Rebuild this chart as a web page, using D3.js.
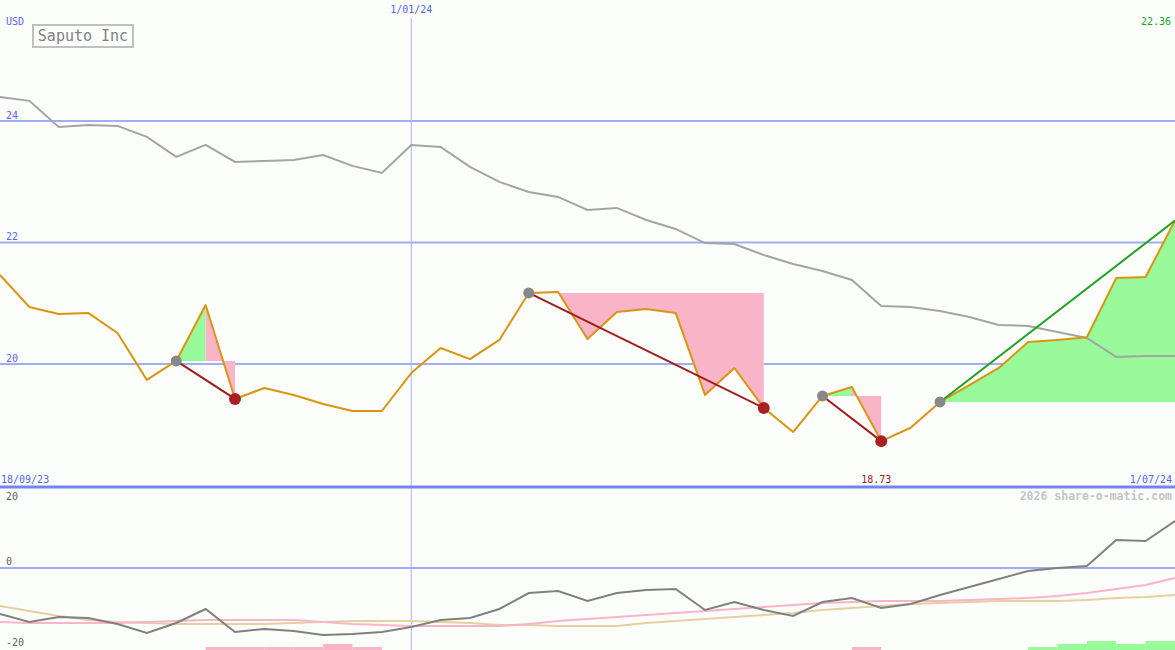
<!DOCTYPE html>
<html><head><meta charset="utf-8">
<script src="https://cdn.jsdelivr.net/npm/d3@7/dist/d3.min.js"></script>
<style>html,body{margin:0;padding:0;background:#fcfefc;}svg{display:block;}</style>
</head><body>
<svg id="c" width="1175" height="650"></svg>
<script>
// ---- data ----
const startDate = "2023-09-25"; // weekly points, last = 1/07/24
const price = [21.465,20.938,20.823,20.84,20.51,19.737,20.05,20.97,19.424,19.605,19.49,19.342,19.226,19.226,19.85,20.263,20.08,20.395,21.169,21.185,20.41,20.856,20.905,20.84,19.49,19.934,19.276,18.88,19.473,19.62,18.73,18.95,19.375,19.65,19.934,20.36,20.395,20.44,21.415,21.43,22.36];
const avgLine = [24.395,24.33,23.90,23.934,23.918,23.737,23.407,23.605,23.325,23.342,23.358,23.44,23.26,23.144,23.605,23.572,23.243,22.996,22.83,22.749,22.535,22.568,22.37,22.222,21.99,21.975,21.794,21.646,21.53,21.383,20.955,20.938,20.872,20.773,20.642,20.626,20.527,20.428,20.115,20.13,20.13];
const momentum = [-11.5,-13.5,-12.25,-12.5,-14,-16.25,-13.75,-10.25,-16,-15.25,-15.75,-16.75,-16.5,-16,-14.75,-13,-12.5,-10.25,-6.25,-5.75,-8.25,-6.25,-5.5,-5.25,-10.5,-8.5,-10.5,-12,-8.5,-7.5,-10,-9,-6.75,-4.75,-2.75,-0.75,0,0.5,7,6.75,11.75];
const signalPink = [-13.5,-13.75,-13.75,-13.75,-13.75,-13.5,-13.25,-13,-13,-13,-13,-13.5,-14,-14.25,-14.5,-14.5,-14.5,-14.5,-14,-13.25,-12.75,-12.25,-11.75,-11.25,-10.75,-10.25,-9.75,-9.25,-8.75,-8.5,-8.25,-8.25,-8.25,-8,-7.75,-7.5,-7,-6.25,-5.25,-4.25,-2.5];
const signalTan = [-9.5,-10.75,-12,-13,-13.5,-13.75,-14,-14,-14,-14,-13.75,-13.5,-13.25,-13.25,-13.25,-13.5,-13.75,-14.25,-14.25,-14.5,-14.5,-14.5,-13.75,-13.25,-12.75,-12.25,-11.75,-11.25,-10.5,-10,-9.5,-9,-8.75,-8.5,-8.25,-8.25,-8.25,-8,-7.5,-7.25,-6.75];
const histogram = [0,0,0,0,0,0,0,-0.75,-0.75,-0.75,-0.75,-1.5,-0.75,0,0,0,0,0,0,0,0,0,0,0,0,0,0,0,0,-0.75,0,0,0,0,0,0.75,1.5,2.25,1.5,2.25,0];
const tradeEntries = [6,18,28,32];
const tradeExits = [8,26,30,null]; // null = open position
const mainTicks = [20,22,24];
const lowTicks = [20,0,-20];
const title = "Saputo Inc";
const labelStart = "18/09/23", labelEnd = "1/07/24", labelMid = "1/01/24";
const midDate = "2024-01-01";
const currency = "USD";
const credit = "2026 share-o-matic.com";

// ---- build ----
const W = 1175, H = 650;
const t0 = new Date(startDate + "T00:00:00");
const dates = price.map((_, i) => d3.timeDay.offset(t0, 7 * i));
const svg = d3.select("#c");
const x = d3.scaleTime().domain([dates[0], dates[dates.length - 1]]).range([0, W]);
const y = d3.scaleLinear().domain([17.975, 25.99]).range([487, 0]);
const yl = d3.scaleLinear().domain([-20, 20]).range([648, 488]);
const mono = "'DejaVu Sans Mono', monospace";

// main gridlines
svg.append("g").selectAll("line").data(mainTicks).join("line")
  .attr("x1", 0).attr("x2", W).attr("y1", d => y(d)).attr("y2", d => y(d))
  .attr("stroke", "#a0aff4").attr("stroke-width", 2);
// vertical date line
const xm = x(new Date(midDate + "T00:00:00"));
svg.append("line").attr("x1", xm).attr("x2", xm).attr("y1", 18).attr("y2", H)
  .attr("stroke", "#a8b6f6").attr("stroke-width", 1);
// lower zero line
svg.append("line").attr("x1", 0).attr("x2", W).attr("y1", yl(0)).attr("y2", yl(0))
  .attr("stroke", "#a0aff4").attr("stroke-width", 2);

// trade fills
const areaBetween = (lvl) => d3.area().x(i => x(dates[i])).y0(y(lvl)).y1(i => y(price[i]));
tradeEntries.forEach((s, k) => {
  const e = tradeExits[k] == null ? price.length - 1 : tradeExits[k];
  const idx = d3.range(s, e + 1);
  const p = idx[d3.maxIndex(idx, i => price[i])];
  const lvl = price[s];
  svg.append("path").datum(d3.range(s, p + 1)).attr("d", areaBetween(lvl)).attr("fill", "#98fa98");
  if (p < e) svg.append("path").datum(d3.range(p, e + 1)).attr("d", areaBetween(lvl)).attr("fill", "#fab4c8");
});

// average line
svg.append("path").datum(avgLine).attr("fill", "none").attr("stroke", "#a4a4a4").attr("stroke-width", 2)
  .attr("d", d3.line().x((d, i) => x(dates[i])).y(d => y(d)));
// price line
svg.append("path").datum(price).attr("fill", "none").attr("stroke", "#da9410").attr("stroke-width", 2)
  .attr("stroke-linejoin", "round")
  .attr("d", d3.line().x((d, i) => x(dates[i])).y(d => y(d)));

// trade lines
tradeEntries.forEach((s, k) => {
  const open = tradeExits[k] == null;
  const e = open ? price.length - 1 : tradeExits[k];
  svg.append("line").attr("x1", x(dates[s])).attr("y1", y(price[s])).attr("x2", x(dates[e])).attr("y2", y(price[e]))
    .attr("stroke", open ? "#22a022" : "#a01c1c").attr("stroke-width", 2);
});
// markers
svg.append("g").selectAll("circle").data(tradeEntries).join("circle")
  .attr("cx", i => x(dates[i])).attr("cy", i => y(price[i])).attr("r", 5.5).attr("fill", "#888888");
svg.append("g").selectAll("circle").data(tradeExits.filter(d => d != null)).join("circle")
  .attr("cx", i => x(dates[i])).attr("cy", i => y(price[i])).attr("r", 6).attr("fill", "#a82020");

// bottom axis line of main panel
svg.append("line").attr("x1", 0).attr("x2", W).attr("y1", 487).attr("y2", 487)
  .attr("stroke", "#7484f0").attr("stroke-width", 3);

// lower panel histogram
svg.append("g").selectAll("rect").data(histogram.map((v, i) => ({v, i})).filter(d => d.v !== 0)).join("rect")
  .attr("x", d => x(dates[d.i])).attr("width", d => x(dates[d.i + 1]) - x(dates[d.i]))
  .attr("y", d => H - (yl(0) - yl(Math.abs(d.v)))).attr("height", d => yl(0) - yl(Math.abs(d.v)))
  .attr("fill", d => d.v > 0 ? "#98fa98" : "#fab4c8");
// lower lines
const lowLine = d3.line().x((d, i) => x(dates[i])).y(d => yl(d));
svg.append("path").datum(signalTan).attr("fill", "none").attr("stroke", "#e6d0a0").attr("stroke-width", 2).attr("d", lowLine);
svg.append("path").datum(signalPink).attr("fill", "none").attr("stroke", "#f8b4c8").attr("stroke-width", 2).attr("d", lowLine);
svg.append("path").datum(momentum).attr("fill", "none").attr("stroke", "#808080").attr("stroke-width", 2).attr("d", lowLine);

// texts
const txt = (s, tx, ty, opt = {}) => svg.append("text").text(s).attr("x", tx).attr("y", ty)
  .attr("font-family", mono).attr("font-size", opt.size || 10).attr("fill", opt.fill || "#5566ee")
  .attr("text-anchor", opt.anchor || "start").attr("font-weight", opt.weight || "normal");
mainTicks.forEach(t => txt(String(t), 6, y(t) - 2));
txt(currency, 6, 25);
txt(labelMid, xm, 13, {anchor: "middle"});
txt(d3.format(".2f")(price[price.length - 1]), 1171, 25, {anchor: "end", fill: "#22a022"});
txt(labelStart, 1, 483);
txt(labelEnd, 1172, 483, {anchor: "end"});
const minI = d3.minIndex(price);
txt(d3.format(".2f")(price[minI]), x(dates[minI]) - 5, 483, {anchor: "middle", fill: "#a02020"});
txt(credit, 1172, 500, {anchor: "end", fill: "#c4c4c4", size: 11.5, weight: "bold"});
txt(String(lowTicks[0]), 6, 500, {fill: "#606060"});
txt(String(lowTicks[1]), 6, yl(0) - 3, {fill: "#606060"});
txt(String(lowTicks[2]), 6, 646, {fill: "#606060"});
// title box
svg.append("rect").attr("x", 33).attr("y", 25).attr("width", 100).attr("height", 22)
  .attr("fill", "#fcfefc").attr("stroke", "#c0c0c0").attr("stroke-width", 2);
txt(title, 83, 41, {anchor: "middle", fill: "#808080", size: 15});
</script>
</body></html>
